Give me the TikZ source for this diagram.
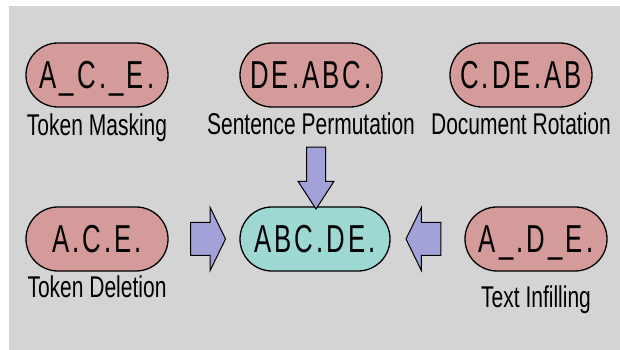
\documentclass[tikz,border=0pt]{standalone}
\usepackage{fontspec}
\setmainfont{Liberation Sans}[FakeStretch=0.7]
\newfontfamily\pillfont{Liberation Sans}[FakeStretch=0.66,LetterSpace=8]
\usepackage{tikz}
\usetikzlibrary{positioning, shapes.misc, shapes.arrows, calc}
\definecolor{noisepink}{HTML}{D59B9B}
\definecolor{noisecyan}{HTML}{9DD8D3}
\definecolor{noiselilac}{HTML}{A2A2D9}
\definecolor{noisegray}{HTML}{D4D4D4}

\begin{document}
\begin{tikzpicture}[x=1pt, y=1pt, node distance=6pt,
  pill/.style={rounded rectangle, draw=black, line width=1.3pt, fill=noisepink,
               minimum width=142pt, minimum height=64pt, inner sep=0pt,
               text height=28pt, text depth=0pt,
               font=\pillfont\fontsize{39}{40}\selectfont},
  lbl/.style={inner sep=0pt, font=\fontsize{30}{32}\selectfont},
  blockarr/.style={single arrow, draw=black, line width=1pt, fill=noiselilac,
                   inner sep=0pt, single arrow head indent=0pt},
  sidearr/.style={blockarr, minimum width=62pt, minimum height=35pt,
                  text height=16pt, text depth=16pt,
                  single arrow head extend=15pt, single arrow tip angle=128}]
  \useasboundingbox (0,0) rectangle (620,350);
  \fill[noisegray] (9,0) rectangle (620,344);
  % noised inputs, top row
  \node[pill] (mask) at (97,275) {A\_C.\_E.};
  \node[pill] (perm) at (311,275) {DE.ABC.};
  \node[pill] (rot) at (521,275) {C.DE.AB};
  \node[lbl, below=of mask] (masklbl) {Token Masking};
  \node[lbl, below=5pt of perm] (permlbl) {Sentence Permutation};
  \node[lbl, below=5pt of rot] (rotlbl) {Document Rotation};
  % bottom row
  \node[pill] (del) at (97,111) {A.C.E.};
  \node[pill, fill=noisecyan, minimum width=150pt] (orig) at (315,111) {ABC.DE.};
  \node[pill] (infill) at (536,111) {A\_.D\_E.};
  \node[lbl, below=4pt of del] (dellbl) {Token Deletion};
  \node[lbl, below=14pt of infill] (infilllbl) {Text Infilling};
  % block arrows into the original
  \node[blockarr, minimum width=35pt, minimum height=62pt,
        text height=9pt, text depth=9pt,
        single arrow head extend=8.5pt, single arrow tip angle=66,
        rotate=-90] (permarr) at ($(permlbl.south)!0.5!(orig.north)+(3,0)$) {};
  \node[sidearr] (delarr) at ($(del.east)!0.5!(orig.west)$) {};
  \node[sidearr, rotate=180] (infillarr) at ($(orig.east)!0.5!(infill.west)$) {};
\end{tikzpicture}
\end{document}
